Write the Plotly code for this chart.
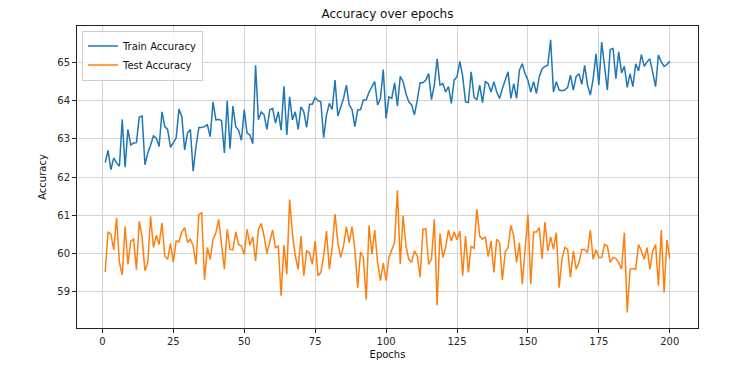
import plotly.graph_objects as go

epochs = list(range(1, 201))

train_acc = [
    62.38, 62.70, 62.19, 62.50, 62.37, 62.28, 63.51, 62.26, 63.25, 62.84,
    62.89, 62.90, 63.57, 63.60, 62.32, 62.63, 62.84, 63.08, 63.02, 62.80,
    63.71, 63.32, 63.25, 62.78, 62.90, 63.02, 63.78, 63.58, 62.71, 63.15,
    63.25, 62.15, 62.80, 63.30, 63.30, 63.32, 63.37, 63.06, 63.97, 63.50,
    63.51, 63.48, 62.63, 64.00, 62.74, 63.86, 63.32, 63.23, 62.96, 63.76,
    63.15, 63.10, 62.87, 64.93, 63.50, 63.71, 63.63, 63.25, 63.76, 63.80,
    63.41, 63.71, 63.23, 64.38, 63.10, 64.10,
    63.50, 63.71, 63.25, 63.84, 63.71, 63.30, 63.91, 63.91, 64.08, 64.00,
    63.97, 63.03, 63.63, 63.93, 63.77, 64.54, 63.60, 63.84, 64.06, 64.41,
    63.89, 63.77, 63.32, 63.76, 63.77, 64.02, 64.02, 64.23, 64.35, 64.50,
    63.89, 64.06, 64.82, 63.54, 64.10,
    64.06, 64.47, 63.86, 64.64, 64.50, 64.19, 63.97, 63.89, 63.63, 64.02,
    64.47, 64.47, 64.54, 64.71, 64.03, 64.41, 65.10, 64.41, 64.45, 64.23,
    64.37, 63.93, 64.54, 64.63, 65.03, 64.64, 63.97, 63.95, 64.76, 64.10,
    64.02, 64.41, 63.95, 64.50, 64.45,
    64.23, 64.50, 64.23, 64.06, 64.32, 64.54, 64.76, 64.06, 64.45, 64.06,
    64.80, 64.97, 64.71, 64.54, 64.23, 64.50, 64.19, 64.63, 64.84, 64.90,
    64.93, 65.60, 64.23, 64.50, 64.28, 64.26, 64.28, 64.35, 64.67, 64.28,
    64.63, 64.71, 64.43, 64.93, 64.41,
    64.15, 64.58, 65.23, 64.41, 65.54, 64.90, 64.28, 65.34, 65.37, 64.58,
    65.28, 64.73, 64.90, 64.35, 64.71, 64.37, 64.97, 64.78, 65.21, 64.90,
    65.02, 65.10, 64.75, 64.37, 65.20, 65.02, 64.90, 64.95, 65.04,
]

test_acc = [
    59.51, 60.56, 60.50, 60.09, 60.93, 59.76, 59.43, 60.71, 59.71, 60.32,
    60.37, 59.57, 60.84, 60.41, 59.54, 59.76, 60.97, 60.15, 60.47, 60.23,
    60.80, 59.93, 59.84, 60.26, 59.76, 60.32, 60.30, 60.56, 60.67, 60.28,
    60.37, 60.20, 59.71, 61.02, 61.06, 59.30, 60.15, 59.84, 60.37, 60.54,
    60.89, 60.28, 59.58, 60.63, 60.10, 60.09, 60.56, 60.23, 60.19, 59.97,
    60.63, 60.21, 60.43, 59.80, 60.63, 60.78, 60.45, 59.99, 60.28, 60.61,
    60.15, 60.19, 58.89, 60.21, 59.45, 61.41,
    60.50, 59.93, 59.58, 60.45, 59.41, 60.06, 60.02, 59.71, 60.32, 59.41,
    59.50, 59.93, 60.58, 59.58, 60.15, 61.03, 60.28, 59.89, 60.19, 60.70,
    60.28, 60.70, 60.10, 59.10, 60.03, 59.89, 58.78, 60.73, 59.97, 60.61,
    59.76, 59.28, 59.74, 59.28, 59.89,
    60.10, 60.28, 61.65, 59.71, 60.99, 60.19, 59.84, 59.76, 60.06, 59.93,
    59.37, 60.63, 60.64, 59.71, 59.84, 60.89, 58.64, 60.52, 59.89, 60.15,
    60.61, 60.32, 60.56, 60.35, 60.58, 59.41, 60.45, 59.50, 60.19, 60.12,
    61.15, 60.45, 60.37, 60.43, 59.91,
    60.32, 59.50, 60.37, 60.28, 59.30, 60.03, 60.15, 60.73, 60.45, 59.76,
    60.28, 59.19, 60.19, 61.02, 59.19, 60.56, 60.56, 60.67, 59.86, 60.82,
    60.06, 60.43, 60.10, 60.54, 59.10, 59.84, 60.15, 60.10, 59.37, 60.06,
    59.58, 59.76, 60.10, 60.10, 60.02,
    60.61, 59.84, 60.09, 59.89, 59.89, 60.23, 60.19, 59.76, 59.89, 59.86,
    59.76, 59.58, 60.54, 58.45, 59.58, 59.60, 59.58, 60.23, 60.06, 59.84,
    60.15, 59.58, 60.06, 60.23, 59.15, 60.61, 58.97, 60.35, 59.86,
]

x_ticks = [0, 25, 50, 75, 100, 125, 150, 175, 200]
y_ticks = [59, 60, 61, 62, 63, 64, 65]

FONT = "DejaVu Sans"

fig = go.Figure()
fig.add_trace(go.Scatter(x=epochs, y=train_acc, mode="lines", name="Train Accuracy",
                         line=dict(color="#1f77b4", width=1.5)))
fig.add_trace(go.Scatter(x=epochs, y=test_acc, mode="lines", name="Test Accuracy",
                         line=dict(color="#ff7f0e", width=1.5)))

axis_common = dict(
    showline=True, linecolor="#222222", linewidth=1, mirror=True,
    showgrid=True, gridcolor="#d4d4d4", gridwidth=1,
    ticks="outside", ticklen=4, tickcolor="#222222", tickwidth=1,
    zeroline=False,
    tickfont=dict(family=FONT, size=10, color="#262626"),
)

fig.update_layout(
    width=737, height=370,
    margin=dict(l=77, r=39, t=26, b=42),
    paper_bgcolor="white", plot_bgcolor="white",
    title=dict(text="Accuracy over epochs", x=(77 + 698) / 2 / 737, xanchor="center",
               y=1 - 14 / 370, yanchor="middle",
               font=dict(family=FONT, size=12, color="#111111")),
    xaxis=dict(range=[-8.95, 209.95], tickvals=x_ticks,
               title=dict(text="Epochs", font=dict(family=FONT, size=10, color="#111111"), standoff=4),
               **axis_common),
    yaxis=dict(range=[58.04, 65.96], tickvals=y_ticks,
               title=dict(text="Accuracy", font=dict(family=FONT, size=10, color="#111111"), standoff=8),
               **axis_common),
    legend=dict(x=0.008, y=0.985, xanchor="left", yanchor="top",
                bgcolor="rgba(255,255,255,0.8)", bordercolor="#cccccc", borderwidth=1,
                font=dict(family=FONT, size=10, color="#111111"),
                tracegroupgap=0, itemwidth=30),
    showlegend=True,
)

fig.write_html("out.html", config={"displayModeBar": False},
               post_script="document.body.style.margin='0';document.body.style.padding='0';")
